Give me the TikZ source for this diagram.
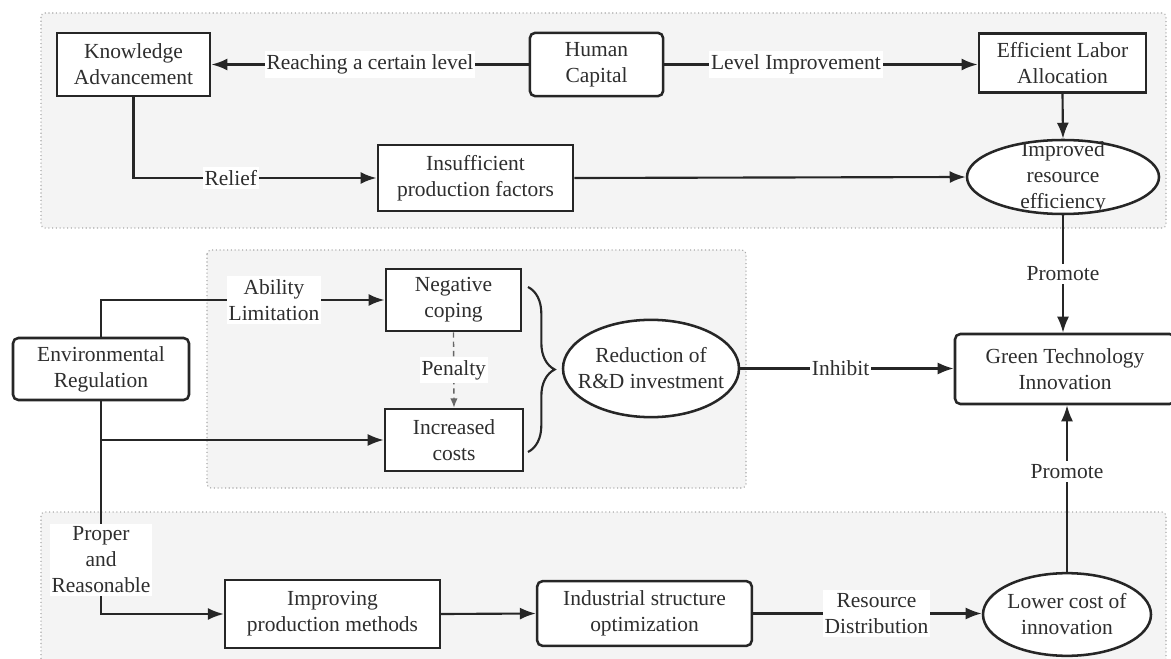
\documentclass[tikz,border=0pt]{standalone}
\usepackage{fontspec}
\setmainfont{Liberation Serif}
\usetikzlibrary{arrows.meta,shapes.geometric,decorations.pathreplacing}
\definecolor{txt}{HTML}{2E2E2E}
\definecolor{ln}{HTML}{262626}
\definecolor{grp}{HTML}{F4F4F4}
\definecolor{grpb}{HTML}{A8A8A8}
\definecolor{pencol}{HTML}{666666}
\begin{document}
\begin{tikzpicture}[x=0.75pt,y=-0.75pt,
  font=\rmfamily\fontsize{16.1pt}{19.5pt}\selectfont, text=txt,
  box/.style={draw=ln, line width=1.9pt, fill=white, align=center, inner sep=0pt},
  rbox/.style={box, rounded corners=4pt},
  ell/.style={ellipse, draw=ln, line width=1.9pt, fill=white, inner sep=0pt},
  grpbox/.style={draw=grpb, dotted, line width=0.8pt, fill=grp, rounded corners=3pt},
  conn/.style={draw=ln, line width=1.6pt, -{Latex[length=12pt,width=9pt]}},
  pen/.style={draw=pencol, line width=1pt, dash pattern=on 4pt off 3pt, -{Latex[length=7pt,width=5.5pt]}},
  lbl/.style={fill=white, inner xsep=1.5pt, inner ysep=2.5pt, align=center, text=txt},
  etxt/.style={align=center, inner sep=0pt, text=txt},
]
\useasboundingbox (0,0) rectangle (1171,659);
\clip (0,0) rectangle (1171,659);
\fill[white] (0,0) rectangle (1171,659);
% groups
\draw[grpbox] (41,13) rectangle (1166,228);
\draw[grpbox] (207,250) rectangle (746,488);
\draw[grpbox] (41,512) rectangle (1166,690);
% nodes
\node[box, minimum width=115pt, minimum height=47.5pt] (ka) at (133.5,64.5) {Knowledge\\Advancement};
\node[rbox, minimum width=100pt, minimum height=47.5pt] (hc) at (596.5,64.5) {Human\\Capital};
\node[box, minimum width=125.5pt, minimum height=44pt] (ela) at (1062.5,63) {Efficient Labor\\Allocation};
\node[ell, minimum width=144pt, minimum height=55.5pt] (imp) at (1063,177) {};
\node[etxt] at (imp.center) {Improved\\resource\\efficiency};
\node[box, minimum width=146.5pt, minimum height=49.5pt] (ipf) at (475.5,178) {Insufficient\\production factors};
\node[rbox, minimum width=132pt, minimum height=46.5pt] (er) at (101,369) {Environmental\\Regulation};
\node[box, minimum width=101.5pt, minimum height=46.5pt] (nc) at (453.5,300) {Negative\\coping};
\node[box, minimum width=103.5pt, minimum height=46.5pt] (ic) at (454,440) {Increased\\costs};
\node[ell, minimum width=132pt, minimum height=73pt] (rd) at (651,368.5) {};
\node[etxt] at (rd.center) {Reduction of\\R\&D investment};
\node[rbox, minimum width=165pt, minimum height=52.5pt] (gti) at (1065,369) {Green Technology\\Innovation};
\node[box, minimum width=161pt, minimum height=51pt] (ipm) at (332.5,614) {Improving\\production methods};
\node[rbox, minimum width=161pt, minimum height=48.5pt] (iso) at (644.5,613.5) {Industrial structure\\optimization};
\node[ell, minimum width=126pt, minimum height=62pt] (lc) at (1067,614.5) {};
\node[etxt] at (lc.center) {Lower cost of\\innovation};
% brace
\draw[draw=ln, line width=1.6pt, decorate, decoration={brace, amplitude=20pt}] (528,287) -- (528,452);
% connectors
\draw[conn] (hc.west) -- node[lbl]{Reaching a certain level} (ka.east);
\draw[conn] (hc.east) -- node[lbl, pos=0.42]{Level Improvement} (hc.east -| ela.west);
\draw[conn] (ela.south) -- (imp.north);
\draw[conn] (ka.south) |- node[lbl, pos=0.7]{Relief} (ipf.west);
\draw[conn] (ipf.east) -- (imp.west);
\draw[conn] (imp.south) -- node[lbl]{Promote} (imp.south |- gti.north);
\draw[conn] (lc.north) -- node[lbl, pos=0.6]{Promote} (lc.north |- gti.south);
\draw[conn] (rd.east) -- node[lbl, pos=0.47]{Inhibit} (rd.east -| gti.west);
\draw[conn] (er.north) |- node[lbl, pos=0.805]{Ability\\Limitation} (nc.west);
\draw[conn] (er.south) |- node[lbl, pos=0.373]{Proper\\and\\Reasonable} (ipm.west);
\coordinate (br) at (er.south |- ic.west);
\draw[conn] (br) -- (ic.west);
\draw[pen] (nc.south) -- node[lbl]{Penalty} (ic.north);
\draw[conn] (ipm.east) -- (iso.west);
\draw[conn] (iso.east) -- node[lbl, pos=0.54]{Resource\\Distribution} (iso.east -| lc.west);
\end{tikzpicture}
\end{document}
